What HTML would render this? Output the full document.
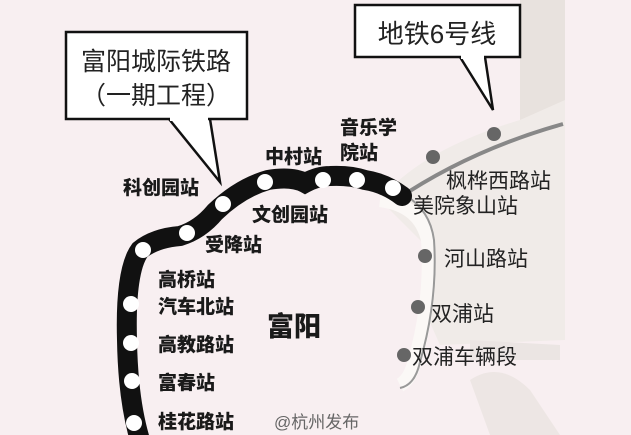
<!DOCTYPE html>
<html><head><meta charset="utf-8"><style>
html,body{margin:0;padding:0;}
body{width:631px;height:435px;overflow:hidden;background:#f8eff1;}
svg{display:block;}
text{font-family:"Liberation Sans","Noto Sans CJK SC",sans-serif;}
.b{font-weight:900;fill:#1a1a1a;font-size:19px;}
.n{fill:#222;font-size:21px;}
</style></head><body>
<svg width="631" height="435" viewBox="0 0 631 435">
<rect width="631" height="435" fill="#f8eff1"/>
<path d="M520 0 L565 0 L565 330 L520 330 Z" fill="#e8e2de"/>
<path d="M380 200 Q420 150 520 120 L565 100 L565 340 L440 345 L420 300 L430 250 Z" fill="#f0ebe8"/>
<path d="M470 340 L560 345 L560 360 L470 360 Z" fill="#ebe5e3"/>
<path d="M470 380 Q500 360 530 390 L560 435 L490 435 Z" fill="#ede6e4"/>
<path d="M380 200 Q420 205 428 240 Q432 300 415 360 Q410 380 400 385" fill="none" stroke="#fbf8f6" stroke-width="14"/>
<path d="M405 195 Q430 210 434 240 Q438 300 420 362 Q415 385 400 388" fill="none" stroke="#999" stroke-width="2"/>
<path d="M396 200 Q470 150 563 124" fill="none" stroke="#888" stroke-width="4"/>
<circle cx="433" cy="157" r="7" fill="#666"/>
<circle cx="494" cy="134" r="7" fill="#666"/>
<circle cx="425" cy="256" r="7" fill="#666"/>
<circle cx="418" cy="307" r="7" fill="#666"/>
<circle cx="404" cy="355" r="7" fill="#666"/>
<path d="M140 440 Q128 400 127 340 Q125 270 140 250 Q155 238 180 236 Q200 230 215 212 Q240 188 268 180 Q292 176 305 183 Q318 176 330 176 Q350 175 365 180 Q385 183 402 196" fill="none" stroke="#111" stroke-width="20" stroke-linecap="round"/>
<g fill="#fff">
<circle cx="143" cy="250" r="8"/><circle cx="187" cy="233" r="8"/><circle cx="223" cy="204" r="8"/>
<circle cx="265" cy="182" r="8"/><circle cx="323" cy="180" r="8"/><circle cx="357" cy="180" r="8"/>
<circle cx="393" cy="188" r="8"/><circle cx="131" cy="304" r="8"/><circle cx="131" cy="343" r="8"/>
<circle cx="132" cy="381" r="8"/><circle cx="134" cy="423" r="8"/>
</g>
<path d="M169 119 L220 182 L210 119" fill="#fff" stroke="#111" stroke-width="2.5"/>
<rect x="66" y="32" width="181" height="87" fill="#fff" stroke="#111" stroke-width="2.5"/>
<rect x="170" y="116" width="38" height="5" fill="#fff"/>
<text x="156" y="70" text-anchor="middle" class="n" style="font-size:25px">富阳城际铁路</text>
<text x="156" y="104" text-anchor="middle" class="n" style="font-size:25px">（一期工程）</text>
<path d="M460 57 L493 110 L485 57" fill="#fff" stroke="#111" stroke-width="2.5"/>
<rect x="355" y="5" width="165" height="52" fill="#fff" stroke="#111" stroke-width="2.5"/>
<rect x="461" y="54" width="23" height="5" fill="#fff"/>
<text x="437" y="43" text-anchor="middle" class="n" style="font-size:26px">地铁6号线</text>
<text x="123" y="194" class="b">科创园站</text>
<text x="265" y="163" class="b">中村站</text>
<text x="340" y="134" class="b">音乐学</text>
<text x="340" y="159" class="b">院站</text>
<text x="252" y="221" class="b">文创园站</text>
<text x="205" y="251" class="b">受降站</text>
<text x="158" y="286" class="b">高桥站</text>
<text x="158" y="313" class="b">汽车北站</text>
<text x="158" y="351" class="b">高教路站</text>
<text x="158" y="389" class="b">富春站</text>
<text x="158" y="428" class="b">桂花路站</text>
<text x="267" y="336" class="b" style="font-size:27px">富阳</text>
<text x="446" y="188" class="n">枫桦西路站</text>
<text x="413" y="213" class="n">美院象山站</text>
<text x="444" y="266" class="n">河山路站</text>
<text x="431" y="321" class="n">双浦站</text>
<text x="412" y="364" class="n">双浦车辆段</text>
<text x="274" y="428" style="font-size:17px;fill:#666;">@杭州发布</text>
</svg>
</body></html>
